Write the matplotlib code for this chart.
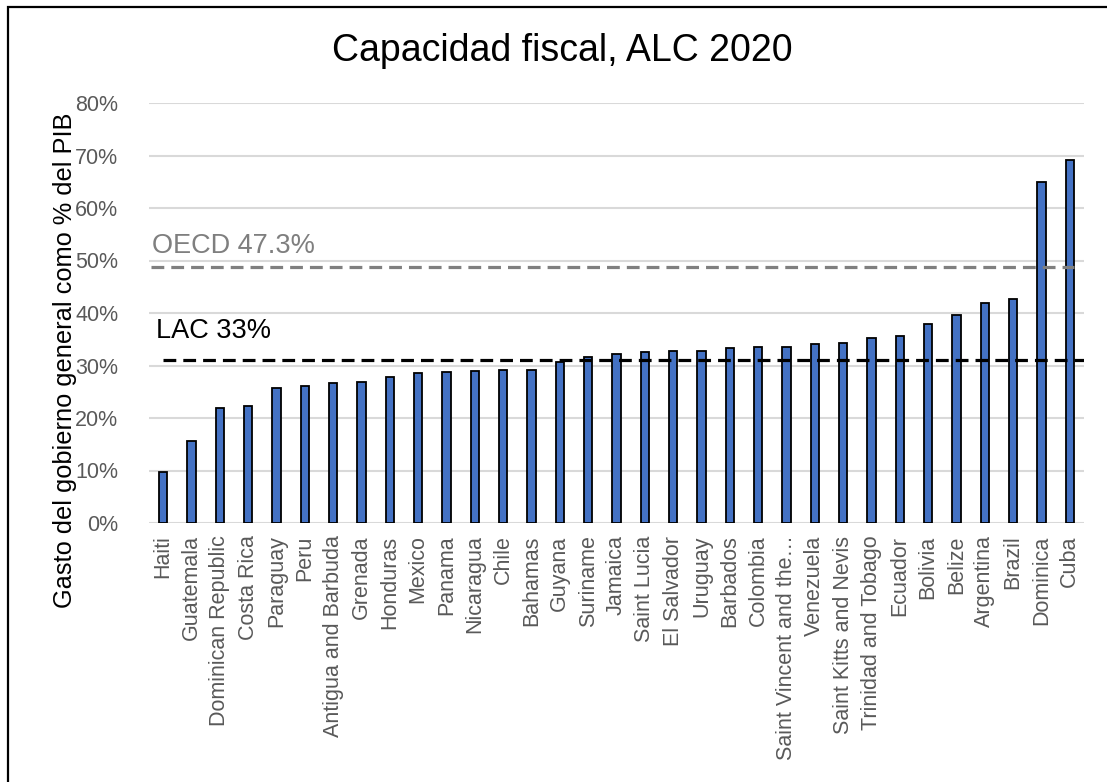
import matplotlib
matplotlib.use("Agg")
import matplotlib.pyplot as plt
from matplotlib.patches import Rectangle
from matplotlib.ticker import FuncFormatter

countries = ["Haiti", "Guatemala", "Dominican Republic", "Costa Rica", "Paraguay", "Peru",
             "Antigua and Barbuda", "Grenada", "Honduras", "Mexico", "Panama", "Nicaragua",
             "Chile", "Bahamas", "Guyana", "Suriname", "Jamaica", "Saint Lucia", "El Salvador",
             "Uruguay", "Barbados", "Colombia", "Saint Vincent and the\u2026", "Venezuela",
             "Saint Kitts and Nevis", "Trinidad and Tobago", "Ecuador", "Bolivia", "Belize",
             "Argentina", "Brazil", "Dominica", "Cuba"]
spending = [9.8, 15.6, 22.0, 22.3, 25.7, 26.1, 26.6, 26.9, 27.9, 28.6, 28.8, 29.0,
            29.1, 29.2, 30.6, 31.7, 32.1, 32.6, 32.7, 32.8, 33.4, 33.5, 33.6, 34.1,
            34.3, 35.2, 35.7, 37.9, 39.6, 42.0, 42.7, 65.0, 69.2]
lac_line = 31.1
oecd_line = 48.7
lac_label = "LAC 33%"
oecd_label = "OECD 47.3%"
yticks = [0, 10, 20, 30, 40, 50, 60, 70, 80]

plt.rcParams['font.family'] = ['Liberation Sans', 'DejaVu Sans']

W, H = 1107, 782
fig = plt.figure(figsize=(W / 100, H / 100), dpi=100)
fig.patch.set_facecolor("white")

left, right = 149, 1084
y0, y80 = 523, 103
ax = fig.add_axes([left / W, 1 - y0 / H, (right - left) / W, (y0 - y80) / H])
ax.set_facecolor("none")

x = list(range(len(countries)))
ax.bar(x, spending, width=0.3, color="#4472C4", edgecolor="black", linewidth=1.3, zorder=3)

ax.set_xlim(-0.5, len(countries) - 0.5)
ax.set_ylim(0, 80)
ax.set_yticks(yticks)
ax.yaxis.set_major_formatter(FuncFormatter(lambda v, p: f"{v:.0f}%"))
ax.grid(axis="y", color="#d9d9d9", linewidth=1.5, zorder=0)
ax.set_axisbelow(True)
for s in ax.spines.values():
    s.set_visible(False)
ax.tick_params(axis="both", length=0, labelsize=15.5, labelcolor="#595959")
ax.tick_params(axis="y", pad=22)
ax.tick_params(axis="x", pad=9)
ax.set_xticks(x)
ax.set_xticklabels(countries, rotation=90)

# reference lines
ax.plot([-0.42, len(countries) - 0.85], [oecd_line, oecd_line], color="#7f7f7f",
        linewidth=2.3, dashes=(4, 2.2), zorder=4)
ax.plot([0, len(countries) - 0.5], [lac_line, lac_line], color="black",
        linewidth=2.3, dashes=(4, 2.2), zorder=4)
ax.text(-0.38, oecd_line + 1.6, oecd_label, color="#7f7f7f", fontsize=19.5, va="bottom", ha="left")
ax.text(-0.25, lac_line + 2.9, lac_label, color="black", fontsize=19.5, va="bottom", ha="left")

fig.text(562 / W, 1 - 51 / H, "Capacidad fiscal, ALC 2020", fontsize=27, ha="center",
         va="center", color="black")
fig.text(65 / W, 1 - 360 / H, "Gasto del gobierno general como % del PIB", fontsize=18.3,
         rotation=90, ha="center", va="center", color="black")

fig.patches.append(Rectangle((8 / W, -0.1), 1.2, 1.1 - 7 / H, transform=fig.transFigure,
                             fill=False, edgecolor="black", linewidth=1.6, zorder=10))

fig.savefig("out.png", dpi=100)
